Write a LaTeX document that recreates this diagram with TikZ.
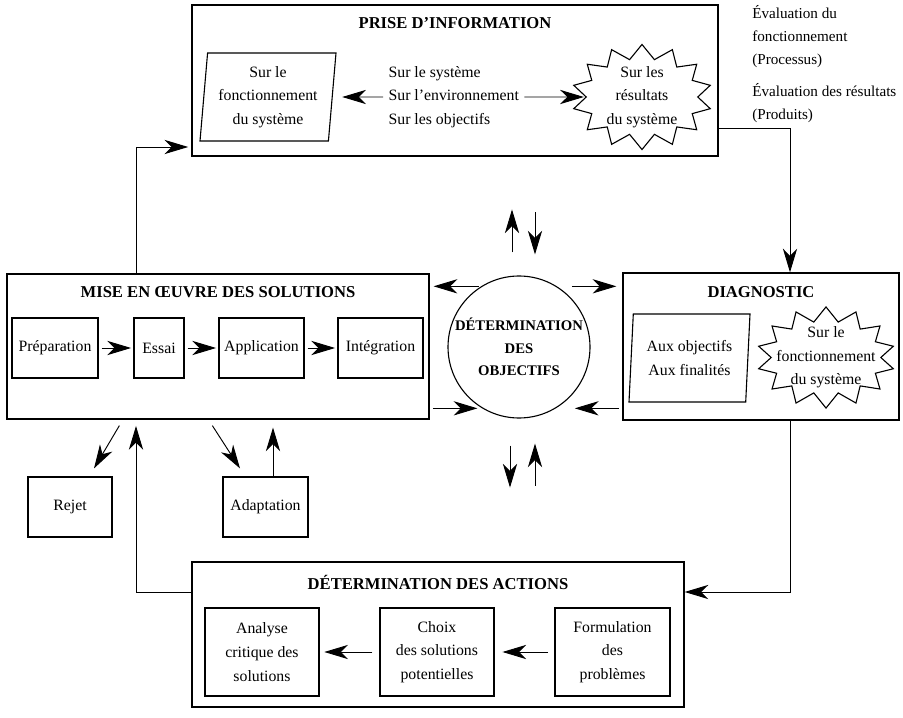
\documentclass[tikz,border=0pt]{standalone}
\usepackage{fontspec}
\setmainfont{Liberation Serif}
\usetikzlibrary{arrows.meta,shapes.geometric,shapes.symbols,calc}
\def\pxl{0.633pt}

\begin{document}
\begin{tikzpicture}[x=\pxl,y=-\pxl,
	every node/.style={font=\fontsize{10}{15}\selectfont,align=center},
	titre/.style={font=\fontsize{10.5}{14}\selectfont\bfseries},
	note/.style={anchor=north west,align=left,inner sep=0pt,font=\fontsize{9.6}{14.6}\selectfont},
	cadre/.style 2 args={draw,line width=.8pt,minimum width=#1*\pxl,minimum height=#2*\pxl},
	boite/.style 2 args={draw,line width=.7pt,inner sep=1.5pt,minimum width=#1*\pxl,minimum height=#2*\pxl},
	para/.style 2 args={draw,line width=.7pt,trapezium,trapezium left angle=83,trapezium right angle=97,
		trapezium stretches body,inner sep=0pt,minimum width=#1*\pxl,minimum height=#2*\pxl},
	etoile/.style 2 args={draw,line width=.7pt,starburst,random starburst=0,starburst points=14,
		starburst point height=9pt,inner sep=-8pt,minimum width=#1,minimum height=#2},
	arr/.style={-{Stealth[length=15pt,width=9pt,inset=4.5pt]},line width=.6pt}]
	\useasboundingbox (0,0) rectangle (903,718);

	\node[cadre={526}{151}] (prise) at (455,80.5) {};
	\node[titre] (tprise) at (455,23) {PRISE D’INFORMATION};
	\node[para={136}{88}] (fonct) at (268,97) {Sur le\\fonctionnement\\du système};
	\node[anchor=west,align=left] (sur) at (383,97) {Sur le système\\Sur l’environnement\\Sur les objectifs};
	\node[etoile={88.6pt}{66.5pt}] (resu) at (642,97) {Sur les\\résultats\\du système};
	\node[note] (evfonc) at (752,5) {Évaluation du\\fonctionnement\\(Processus)};
	\node[note] (evres) at (752,83) {Évaluation des résultats\\(Produits)};

	\node[cadre={422}{145}] (mise) at (218,346.5) {};
	\node[titre] (tmise) at (218,292) {MISE EN ŒUVRE DES SOLUTIONS};
	\node[boite={86}{60}] (prep) at (55,348) {Préparation};
	\node[boite={50}{60}] (essai) at (159,348) {Essai};
	\node[boite={85}{60}] (appl) at (261.5,348) {Application};
	\node[boite={85}{60}] (integ) at (380.5,348) {Intégration};
	\foreach \a/\b in {prep/essai,essai/appl,appl/integ}
		\draw[arr,shorten <=2pt,shorten >=1.5pt] (\a) -- (\b);

	\node[draw,circle,line width=.7pt,minimum size=142*\pxl,inner sep=0pt,
		font=\fontsize{9.3}{14.2}\selectfont\bfseries] (obj) at (519,347) {DÉTERMINATION\\DES\\OBJECTIFS};

	\node[cadre={276}{147}] (diag) at (761,346.5) {};
	\node[titre] (tdiag) at (761,292) {DIAGNOSTIC};
	\node[para={121}{88}] (finalit) at (689.5,358) {Aux objectifs\\Aux finalités};
	\node[etoile={87.4pt}{64pt}] (fonctdiag) at (826,357.5) {Sur le\\fonctionnement\\du système};

	\node[cadre={492}{145}] (actions) at (438,634.5) {};
	\node[titre] (tactions) at (438,582) {DÉTERMINATION DES ACTIONS};
	\node[boite={114}{88}] (analyse) at (262,652) {Analyse\\critique des\\solutions};
	\node[boite={114}{88}] (choix) at (437,652) {Choix\\des solutions\\potentielles};
	\node[boite={115}{88}] (formul) at (612.5,652) {Formulation\\des\\problèmes};
	\draw[arr,shorten <=4pt,shorten >=5pt] (formul) -- (choix);
	\draw[arr,shorten <=4.5pt,shorten >=3pt] (choix) -- (analyse);

	\node[boite={84}{60}] (rejet) at (70,507) {Rejet};
	\node[boite={85}{60}] (adapt) at (265.5,507) {Adaptation};

	\draw[arr,shorten >=6pt] (sur.west) -- (fonct.east);
	\draw[arr,shorten >=1pt] (sur.east) -- (resu.west);

	\coordinate (ptl) at (136,147);
	\coordinate (ptr) at (790,128);
	\coordinate (pbr) at (790,592);
	\coordinate (pbl) at (136,592);
	\draw[arr,shorten >=2pt] (mise.north -| ptl) |- (prise.west |- ptl);
	\draw[arr] (prise.east |- ptr) -| (diag.north -| ptr);
	\draw[arr] (diag.south -| pbr) |- (actions.east |- pbr);
	\draw[arr,shorten >=4pt] (actions.west |- pbl) -| (mise.south -| pbl);

	\draw[arr] ($(mise.south west)+(113,6)$) -- ($(rejet.north)+(24,-8)$);
	\draw[arr] ($(mise.south west)+(206,6)$) -- ($(adapt.north)+(-25.5,-8)$);
	\coordinate (adup) at ($(adapt.north)+(7.5,0)$);
	\draw[arr,shorten >=5pt] (adup) -- (adup |- mise.south);

	\draw[arr,shorten <=1.5pt,shorten >=2.5pt] (obj.122) -- (mise.east |- obj.122);
	\draw[arr,shorten <=9.5pt,shorten >=3.8pt] (obj.58) -- (diag.west |- obj.58);
	\draw[arr,shorten <=2pt,shorten >=3pt] (mise.east |- obj.239) -- (obj.239);
	\draw[arr,shorten <=2pt,shorten >=12pt] (diag.west |- obj.301) -- (obj.301);
	\foreach \dx/\dy/\l in {-7/-23/-43,16/-63/42}
		\draw[arr] ($(obj.north)+(\dx,\dy)$) -- ++(0,\l);
	\foreach \dx/\dy/\l in {-9/27/42,16/67/-42}
		\draw[arr] ($(obj.south)+(\dx,\dy)$) -- ++(0,\l);
\end{tikzpicture}
\end{document}
